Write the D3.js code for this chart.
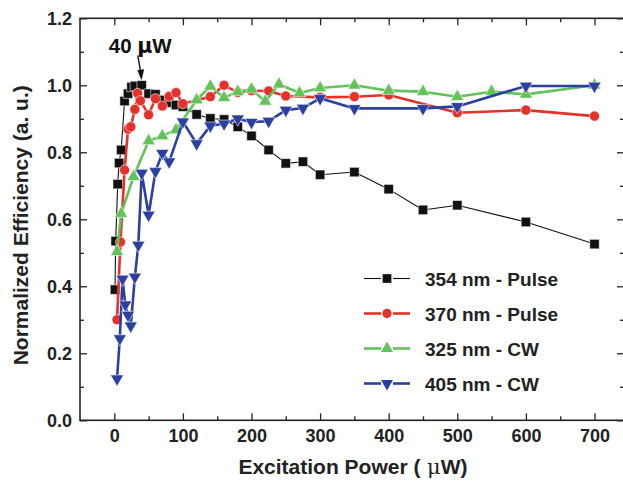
<!DOCTYPE html>
<html>
<head>
<meta charset="utf-8">
<script src="https://cdn.jsdelivr.net/npm/d3@7"></script>
<style>
  html, body { margin: 0; padding: 0; background: #fff; }
  svg { display: block; font-family: "Liberation Sans", Arial, Helvetica, sans-serif; }
</style>
</head>
<body>
<svg id="chart" width="623" height="482"></svg>
<script>
// Excitation power (µW) and normalized efficiency for each source
const pulse354X = [1, 2, 5, 7, 10, 15, 20, 25, 30, 40, 50, 60, 70, 80, 90, 100, 120, 140, 160, 180, 200, 225, 250, 275, 300, 350, 400, 450, 500, 600, 700];
const pulse354Y = [0.39, 0.535, 0.705, 0.768, 0.807, 0.953, 0.975, 0.995, 0.998, 1.0, 0.975, 0.973, 0.956, 0.948, 0.941, 0.936, 0.913, 0.901, 0.898, 0.876, 0.849, 0.807, 0.767, 0.772, 0.733, 0.741, 0.69, 0.628, 0.642, 0.592, 0.526];

const pulse370X = [4, 9, 15, 20, 24, 30, 34, 38, 50, 60, 70, 80, 90, 100, 140, 160, 180, 200, 225, 250, 300, 350, 400, 500, 600, 700];
const pulse370Y = [0.30, 0.532, 0.747, 0.869, 0.876, 0.928, 0.976, 0.954, 0.912, 0.96, 0.938, 0.967, 0.978, 0.945, 0.966, 1.0, 0.979, 0.984, 0.983, 0.968, 0.964, 0.966, 0.971, 0.918, 0.926, 0.908];

const cw325X = [4, 10, 28, 50, 70, 90, 120, 140, 160, 180, 200, 220, 240, 270, 300, 350, 400, 450, 500, 550, 600, 700];
const cw325Y = [0.503, 0.617, 0.727, 0.834, 0.849, 0.867, 0.956, 0.997, 0.963, 0.981, 0.988, 0.952, 1.003, 0.977, 0.992, 1.0, 0.984, 0.981, 0.966, 0.981, 0.973, 1.0];

const cw405X = [4, 8, 12, 16, 20, 24, 30, 35, 40, 50, 60, 70, 80, 100, 120, 140, 160, 180, 200, 225, 250, 275, 300, 350, 450, 500, 600, 700];
const cw405Y = [0.124, 0.244, 0.422, 0.345, 0.314, 0.282, 0.428, 0.523, 0.738, 0.613, 0.743, 0.797, 0.772, 0.891, 0.826, 0.879, 0.885, 0.9, 0.89, 0.893, 0.926, 0.932, 0.961, 0.931, 0.931, 0.937, 0.998, 0.998];

const seriesNames = ["354 nm - Pulse", "370 nm - Pulse", "325 nm - CW", "405 nm - CW"];

const xTickValues = [0, 100, 200, 300, 400, 500, 600, 700];
const xMinorValues = [50, 150, 250, 350, 450, 550, 650];
const yTickValues = [0, 0.2, 0.4, 0.6, 0.8, 1.0, 1.2];
const yMinorValues = [0.1, 0.3, 0.5, 0.7, 0.9, 1.1];

const annotationX = 40, annotationY = 1.0;

// ---- layout ----
const svg = d3.select("#chart");
const plotLeft = 80, plotRight = 624, plotTop = 18.3, plotBottom = 420.3;

const x = d3.scaleLinear().domain([-50, 743]).range([plotLeft, plotRight]);
const y = d3.scaleLinear().domain([0, 1.2]).range([plotBottom, plotTop]);

const series = [
  { name: seriesNames[0], xs: pulse354X, ys: pulse354Y, color: "#111111", width: 1.1, symbol: d3.symbolSquare, size: 90, rotate: 0 },
  { name: seriesNames[1], xs: pulse370X, ys: pulse370Y, color: "#e4322b", width: 2.6, symbol: d3.symbolCircle, size: 80, rotate: 0 },
  { name: seriesNames[2], xs: cw325X, ys: cw325Y, color: "#63c25a", width: 2.6, symbol: d3.symbolTriangle, size: 74, rotate: 0 },
  { name: seriesNames[3], xs: cw405X, ys: cw405Y, color: "#2b3f9f", width: 2.6, symbol: d3.symbolTriangle, size: 74, rotate: 180 }
];

const axisColor = "#222";
const tickFont = 18;

// ---- axes (ticks point inward on all four sides) ----
function styleAxis(g) {
  g.select(".domain").remove();
  g.selectAll(".tick line").attr("stroke", axisColor).attr("stroke-width", 1.3);
  g.selectAll(".tick text").attr("fill", "#222").attr("font-size", tickFont).attr("font-weight", "bold")
    .attr("font-family", '"Liberation Sans", Arial, sans-serif');
}

svg.append("g").attr("transform", `translate(0,${plotBottom})`)
  .call(d3.axisBottom(x).tickValues(xTickValues).tickSize(-7).tickPadding(9).tickFormat(d3.format("d")))
  .call(styleAxis);
svg.append("g").attr("transform", `translate(0,${plotBottom})`)
  .call(d3.axisBottom(x).tickValues(xMinorValues).tickSize(-4).tickFormat(""))
  .call(styleAxis);
svg.append("g").attr("transform", `translate(0,${plotTop})`)
  .call(d3.axisTop(x).tickValues(xTickValues).tickSize(-7).tickFormat(""))
  .call(styleAxis);
svg.append("g").attr("transform", `translate(0,${plotTop})`)
  .call(d3.axisTop(x).tickValues(xMinorValues).tickSize(-4).tickFormat(""))
  .call(styleAxis);

svg.append("g").attr("transform", `translate(${plotLeft},0)`)
  .call(d3.axisLeft(y).tickValues(yTickValues).tickSize(-7).tickPadding(8).tickFormat(d3.format(".1f")))
  .call(styleAxis);
svg.append("g").attr("transform", `translate(${plotLeft},0)`)
  .call(d3.axisLeft(y).tickValues(yMinorValues).tickSize(-4).tickFormat(""))
  .call(styleAxis);
svg.append("g").attr("transform", `translate(${plotRight},0)`)
  .call(d3.axisRight(y).tickValues(yTickValues).tickSize(-7).tickFormat(""))
  .call(styleAxis);
svg.append("g").attr("transform", `translate(${plotRight},0)`)
  .call(d3.axisRight(y).tickValues(yMinorValues).tickSize(-4).tickFormat(""))
  .call(styleAxis);

// plot frame
svg.append("rect")
  .attr("x", plotLeft).attr("y", plotTop)
  .attr("width", plotRight - plotLeft).attr("height", plotBottom - plotTop)
  .attr("fill", "none").attr("stroke", axisColor).attr("stroke-width", 1.6);

// ---- axis titles ----
svg.append("text")
  .attr("x", (plotLeft + plotRight) / 2 + 1).attr("y", 474)
  .attr("text-anchor", "middle").attr("font-size", 21).attr("font-weight", "bold").attr("fill", "#222")
  .html('Excitation Power (<tspan font-family="\'DejaVu Serif\', serif" font-weight="normal">\u00A0μ</tspan>W)');

svg.append("text")
  .attr("transform", `translate(28,${(plotTop + plotBottom) / 2 + 6}) rotate(-90)`)
  .attr("text-anchor", "middle").attr("font-size", 21).attr("font-weight", "bold").attr("fill", "#222")
  .text("Normalized Efficiency (a. u.)");

// ---- data series ----
const line = d3.line().x(d => x(d[0])).y(d => y(d[1]));

series.forEach(s => {
  const pts = s.xs.map((v, i) => [v, s.ys[i]]);
  const g = svg.append("g");
  g.append("path").datum(pts)
    .attr("d", line).attr("fill", "none")
    .attr("stroke", s.color).attr("stroke-width", s.width).attr("stroke-linejoin", "round");
  const sym = d3.symbol().type(s.symbol).size(s.size);
  g.selectAll("path.mk").data(pts).join("path").attr("class", "mk")
    .attr("d", sym)
    .attr("transform", d => `translate(${x(d[0])},${y(d[1])}) rotate(${s.rotate})`)
    .attr("fill", s.color).attr("stroke", "#fff").attr("stroke-width", 0.8).attr("stroke-opacity", 0.7);
});

// ---- annotation for the peak of the 354 nm pulse series ----
const ax = x(annotationX), ay = y(annotationY);
svg.append("text")
  .attr("x", ax - 33).attr("y", ay - 32)
  .attr("font-size", 20.5).attr("font-weight", "bold").attr("fill", "#111")
  .html('40 <tspan font-family="\'DejaVu Sans\', sans-serif" font-weight="bold">μ</tspan>W');
svg.append("line")
  .attr("x1", ax - 4).attr("y1", ay - 30).attr("x2", ax - 1).attr("y2", ay - 13)
  .attr("stroke", "#111").attr("stroke-width", 1.4);
svg.append("path")
  .attr("d", `M${ax - 0.2},${ay - 5} L${ax - 4.4},${ay - 15} L${ax + 2.4},${ay - 16} Z`)
  .attr("fill", "#111");

// ---- legend ----
const legendX0 = 364, legendX1 = 410, legendMid = 387, legendTextX = 425;
const legendY = [278.5, 313.5, 348.5, 383.5];
series.forEach((s, i) => {
  const g = svg.append("g").attr("transform", `translate(0,${legendY[i]})`);
  g.append("line").attr("x1", legendX0).attr("x2", legendMid - 6).attr("y1", 0).attr("y2", 0)
    .attr("stroke", s.color).attr("stroke-width", s.width);
  g.append("line").attr("x1", legendMid + 6).attr("x2", legendX1).attr("y1", 0).attr("y2", 0)
    .attr("stroke", s.color).attr("stroke-width", s.width);
  g.append("path").attr("d", d3.symbol().type(s.symbol).size(s.size * 0.85)())
    .attr("transform", `translate(${legendMid},0) rotate(${s.rotate})`)
    .attr("fill", s.color);
  g.append("text").attr("x", legendTextX).attr("y", 7)
    .attr("font-size", 19).attr("font-weight", "bold").attr("fill", "#222")
    .text(s.name);
});
</script>
</body>
</html>
